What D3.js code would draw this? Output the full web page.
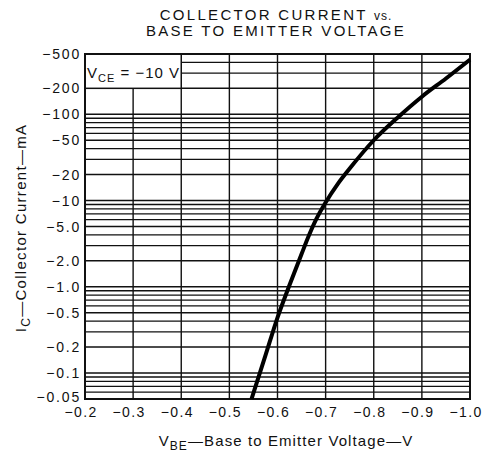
<!DOCTYPE html>
<html>
<head>
<meta charset="utf-8">
<script src="https://cdn.jsdelivr.net/npm/d3@7"></script>
<style>
  body { margin: 0; background: #fff; }
  text { font-family: "Liberation Sans", Arial, sans-serif; fill: #111; }
</style>
</head>
<body>
<svg width="483" height="464"></svg>
<script>
// curve: base-emitter voltage (V) vs collector current (mA)
var vbe = [-0.546, -0.575, -0.60, -0.625, -0.65, -0.665, -0.68, -0.70, -0.725, -0.75, -0.80, -0.85, -0.90, -0.95, -1.0];
var ic  = [-0.05, -0.16, -0.44, -1.05, -2.4, -3.9, -6.0, -9.5, -15.5, -23.5, -50, -92, -160, -260, -430];

var xTicks = [-0.2, -0.3, -0.4, -0.5, -0.6, -0.7, -0.8, -0.9, -1.0];
var xTickLabels = ["\u22120.2", "\u22120.3", "\u22120.4", "\u22120.5", "\u22120.6", "\u22120.7", "\u22120.8", "\u22120.9", "\u22121.0"];
var yTicks = [-0.05, -0.1, -0.2, -0.5, -1.0, -2.0, -5.0, -10, -20, -50, -100, -200, -500];
var yTickLabels = ["\u22120.05", "\u22120.1", "\u22120.2", "\u22120.5", "\u22121.0", "\u22122.0", "\u22125.0",
                   "\u221210", "\u221220", "\u221250", "\u2212100", "\u2212200", "\u2212500"];

var svg = d3.select("svg");

var x = d3.scaleLinear()
    .domain([-0.2, -1.0])
    .range([85, 470]);

var y = d3.scaleLog()
    .domain([-0.05, -500])
    .range([399, 54]);

var x0 = x.range()[0], x1 = x.range()[1];
var yTop = y.range()[1], yBot = y.range()[0];

// log paper grid: every 1..9 multiple of each decade
var grid = svg.append("g")
    .attr("stroke", "#111")
    .attr("stroke-width", 1.4);

grid.selectAll("line.h")
    .data(y.ticks())
    .enter().append("line")
    .attr("class", "h")
    .attr("x1", x0).attr("x2", x1)
    .attr("y1", d => y(d)).attr("y2", d => y(d));

grid.selectAll("line.v")
    .data(xTicks)
    .enter().append("line")
    .attr("class", "v")
    .attr("x1", d => x(d)).attr("x2", d => x(d))
    .attr("y1", yTop).attr("y2", yBot);

// condition box in the top-left corner
svg.append("rect")
    .attr("x", x(-0.2))
    .attr("y", y(-500))
    .attr("width", x(-0.4) - x(-0.2))
    .attr("height", y(-200) - y(-500))
    .attr("fill", "#fff")
    .attr("stroke", "#111")
    .attr("stroke-width", 1.5);

var vce = svg.append("text")
    .attr("x", x(-0.2) + 2)
    .attr("y", y(-500) + 24)
    .attr("font-size", 15)
    .attr("letter-spacing", 1);
vce.append("tspan").text("V");
vce.append("tspan").attr("font-size", 11).attr("dy", 4).text("CE");
vce.append("tspan").attr("dy", -4).text(" = \u221210  V");

// frame
svg.append("rect")
    .attr("x", x0).attr("y", yTop)
    .attr("width", x1 - x0).attr("height", yBot - yTop)
    .attr("fill", "none")
    .attr("stroke", "#111")
    .attr("stroke-width", 2);

// the curve
var pts = vbe.map((v, i) => [v, ic[i]]);
svg.append("path")
    .datum(pts)
    .attr("fill", "none")
    .attr("stroke", "#000")
    .attr("stroke-width", 4)
    .attr("d", d3.line()
        .x(d => x(d[0]))
        .y(d => y(d[1]))
        .curve(d3.curveMonotoneX));

// tick labels
svg.append("g").selectAll("text")
    .data(xTicks)
    .enter().append("text")
    .attr("x", d => x(d))
    .attr("y", yBot + 18)
    .attr("dx", -4)
    .attr("text-anchor", "middle")
    .attr("font-size", 14)
    .attr("letter-spacing", 1.4)
    .text((d, i) => xTickLabels[i]);

svg.append("g").selectAll("text")
    .data(yTicks)
    .enter().append("text")
    .attr("x", x0 - 4)
    .attr("y", d => y(d))
    .attr("dy", d => d === -0.05 ? "0.2em" : "0.36em")
    .attr("text-anchor", "end")
    .attr("font-size", 14)
    .attr("letter-spacing", 1.8)
    .text((d, i) => yTickLabels[i]);

// titles
var title = svg.append("text")
    .attr("x", 276)
    .attr("text-anchor", "middle")
    .attr("font-size", 15)
    .attr("letter-spacing", 2.3);
title.append("tspan").attr("x", 276).attr("y", 20).text("COLLECTOR CURRENT ")
    .append("tspan").attr("font-size", 12).attr("letter-spacing", 1).text("vs.");
title.append("tspan").attr("x", 276).attr("y", 36).text("BASE TO EMITTER VOLTAGE");

var xl = svg.append("text")
    .attr("x", 286)
    .attr("y", 446)
    .attr("text-anchor", "middle")
    .attr("font-size", 15)
    .attr("letter-spacing", 1.1);
xl.append("tspan").text("V");
xl.append("tspan").attr("font-size", 12).attr("dy", 4).text("BE");
xl.append("tspan").attr("dy", -4).text("\u2014Base to Emitter Voltage\u2014V");

var yl = svg.append("text")
    .attr("transform", "translate(26,228) rotate(-90)")
    .attr("text-anchor", "middle")
    .attr("font-size", 15)
    .attr("letter-spacing", 1.3);
yl.append("tspan").text("I");
yl.append("tspan").attr("font-size", 12).attr("dy", 4).text("C");
yl.append("tspan").attr("dy", -4).text("\u2014Collector Current\u2014mA");
</script>
</body>
</html>
